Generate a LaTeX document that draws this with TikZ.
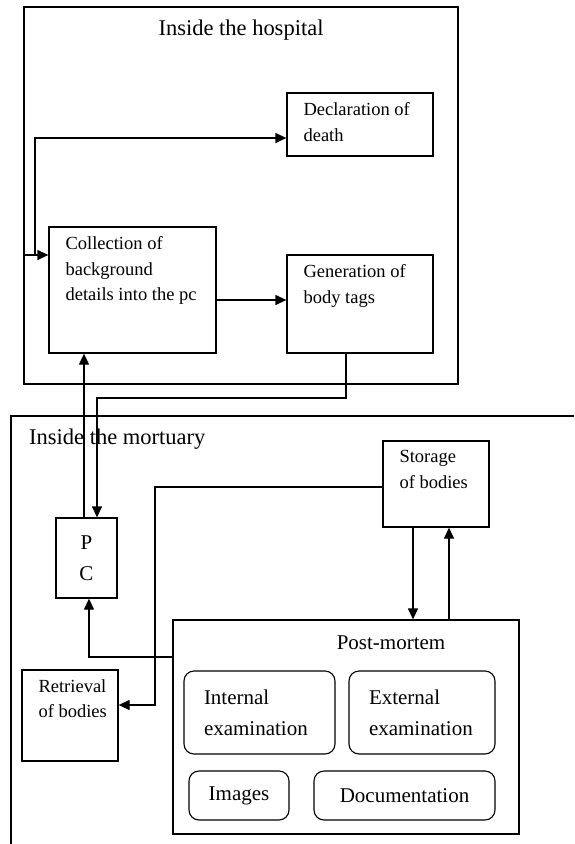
\documentclass[tikz,border=0pt]{standalone}
\usepackage{fontspec}
\setmainfont{Liberation Serif}
\usepackage{tikz}
\usetikzlibrary{positioning}
\usetikzlibrary{arrows.meta}
\usetikzlibrary{calc}
\tikzstyle{box}=[rectangle,draw,line width=1.3pt,inner sep=0pt]
\tikzstyle{roundbox}=[rectangle,rounded corners=10pt,draw,line width=1.1pt,inner sep=0pt]
\tikzstyle{edge} = [draw,line width=1.3pt,-{Triangle[length=11pt,width=10pt]}]
\tikzstyle{plainedge} = [draw,line width=1.3pt]
\tikzstyle{boxtext} = [anchor=north west,align=left,inner xsep=17pt,inner ysep=10pt,font=\fontsize{18.5}{25.5}\selectfont]
\tikzset{areatitle/.style={inner sep=0pt,font=\fontsize{22.5}{27}\selectfont}}

\begin{document}
\begin{tikzpicture}[x=1pt,y=-1pt]

  \useasboundingbox (0,0) rectangle (574,844);

  % the two areas
  \node[box, minimum width=434pt, minimum height=377pt] (hospital) at (241,195.5) {};
  \coordinate (mortNE) at (574,416);
  \coordinate (mortSW) at (11,844);
  \path[plainedge] (mortNE) -- (mortNE -| mortSW) -- (mortSW);

  \node[areatitle] (hosptitle) at (241,30) {Inside the hospital};
  \node[areatitle, anchor=west] (morttitle) at (29,439) {Inside the mortuary};

  % plain boxes, text in the upper left corner
  \foreach \x/\y/\w/\h/\name/\txt in {360/124.5/146/63/decl/{Declaration of\\death},
      132.5/290/167/126/coll/{Collection of\\background\\details into the pc},
      360/304/146/98/gen/{Generation of\\body tags},
      436/484/106/86/store/{Storage\\of bodies},
      70/715.5/96/91/retr/{Retrieval\\of bodies}}
    \node[box, minimum width=\w pt, minimum height=\h pt, label={[boxtext]north west:\txt}] (\name) at (\x,\y) {};

  \node[box, minimum width=61pt, minimum height=80pt, align=center, font=\fontsize{21}{31}\selectfont] (pc) at (86.5,558) {P\\C};

  % post-mortem
  \node[box, minimum width=346pt, minimum height=214pt] (pm) at (346,727) {};
  \node[areatitle, font=\fontsize{21}{25}\selectfont] (pmtitle) at (391,643) {Post-mortem};

  \foreach \x/\y/\w/\h/\tw/\name/\txt in {259.5/712.5/151/83/111/intl/{Internal\\examination},
      422/712.5/146/83/106/extl/{External\\examination}}
    \node[roundbox, minimum width=\w pt, minimum height=\h pt, text width=\tw pt, align=left, font=\fontsize{21}{31}\selectfont] (\name) at (\x,\y) {\txt};

  \foreach \x/\y/\w/\h/\name/\txt in {239/795.5/100/49/img/Images, 404.5/795.5/181/49/doc/Documentation}
    \node[roundbox, minimum width=\w pt, minimum height=\h pt, font=\fontsize{21}{25}\selectfont] (\name) at (\x,\y) {\txt};

  % connectors
  \coordinate (fork) at (35,255);
  \path[edge] (hospital.west |- fork) -- (coll.west |- fork);
  \path[edge] (fork) |- (decl.west |- 0,138);
  \path[edge] (coll.east |- 0,300) -- (gen.west |- 0,300);
  \path[edge] (gen.south -| 346,0) -- (346,398) -- (97,398) -- (pc.north -| 97,0);
  \path[edge] (pc.north -| 84,0) -- (coll.south -| 84,0);

  \path[edge] (store.west |- 0,487) -| (155,705) -- (retr.east |- 0,705);
  \path[edge] (store.south -| 413,0) -- (pm.north -| 413,0);
  \path[edge] (pm.north -| 449,0) -- (store.south -| 449,0);
  \path[edge] (pm.west |- 0,657) -| (pc.south -| 89,0);

\end{tikzpicture}
\end{document}
